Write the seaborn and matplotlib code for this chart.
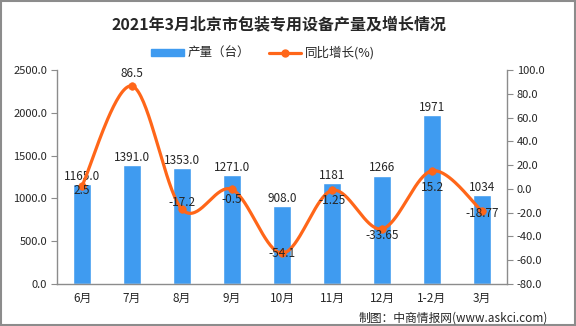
import numpy as np
import pandas as pd
import matplotlib
matplotlib.use("Agg")
import matplotlib.pyplot as plt
import seaborn as sns
from matplotlib.lines import Line2D
from matplotlib.patches import Patch, Rectangle

sns.set_style("white")
plt.rcParams['font.family'] = ['Noto Sans CJK SC', 'DejaVu Sans']

categories = ["6月", "7月", "8月", "9月", "10月", "11月", "12月", "1-2月", "3月"]
output = [1165, 1391, 1353, 1271, 908, 1181, 1266, 1971, 1034]
output_labels = ["1165.0", "1391.0", "1353.0", "1271.0", "908.0", "1181", "1266", "1971", "1034"]
growth = [2.5, 86.5, -17.2, -0.5, -54.1, -1.25, -33.65, 15.2, -18.77]
growth_labels = ["2.5", "86.5", "-17.2", "-0.5", "-54.1", "-1.25", "-33.65", "15.2", "-18.77"]
left_ticks = [0, 500, 1000, 1500, 2000, 2500]
right_ticks = [-80, -60, -40, -20, 0, 20, 40, 60, 80, 100]

# label vertical offsets (points) for growth labels -- styling only
growth_offsets = [-3, 9, 5, -7, 0, -7, -5, -12, -2]

BLUE = "#3F9BF0"
ORANGE = "#FF6619"
GRAY = "#8C8C8C"

fig = plt.figure(figsize=(5.76, 3.26), dpi=100)
ax = fig.add_axes([57/576, 1-284/326, 450/576, 214/326])

df = pd.DataFrame({"cat": categories, "val": output})
sns.barplot(data=df, x="cat", y="val", color=BLUE, saturation=1, width=0.37, ax=ax)
ax.set_ylim(0, 2500)
ax.set_xlim(-0.5, len(categories) - 0.5)
ax.set_yticks(left_ticks)
ax.set_yticklabels([f"{v:.1f}" for v in left_ticks], fontsize=8)
ax.set_xlabel("")
ax.set_ylabel("")
ax.tick_params(axis='x', length=0, labelsize=8.5, pad=6)
ax.set_xticks(np.arange(-0.5, len(categories)), minor=True)
ax.tick_params(axis='x', which='minor', length=4, color=GRAY, direction='out')
ax.tick_params(axis='y', length=4, color=GRAY, direction='out', pad=3)

for i, (v, lab) in enumerate(zip(output, output_labels)):
    ax.annotate(lab, (i, v), xytext=(0, 1), textcoords="offset points",
                ha="center", va="bottom", fontsize=8.5)

ax2 = ax.twinx()
ax2.set_ylim(-80, 100)
ax2.set_yticks(right_ticks)
ax2.set_yticklabels([f"{v:.1f}" for v in right_ticks], fontsize=8)
ax2.tick_params(axis='y', length=4, color=GRAY, direction='out', pad=3)

# smooth curve (Catmull-Rom) through the data points
xs = np.arange(len(growth), dtype=float)
ys = np.array(growth, dtype=float)
px = np.concatenate([[xs[0]], xs, [xs[-1]]])
py = np.concatenate([[ys[0]], ys, [ys[-1]]])
cx, cy = [], []
t = np.linspace(0, 1, 40)
for i in range(1, len(px) - 2):
    p0, p1, p2, p3 = [np.array([px[j], py[j]]) for j in (i - 1, i, i + 1, i + 2)]
    m1 = (p2 - p0) / 2
    m2 = (p3 - p1) / 2
    h00 = 2*t**3 - 3*t**2 + 1
    h10 = t**3 - 2*t**2 + t
    h01 = -2*t**3 + 3*t**2
    h11 = t**3 - t**2
    seg = np.outer(h00, p1) + np.outer(h10, m1) + np.outer(h01, p2) + np.outer(h11, m2)
    cx.extend(seg[:, 0]); cy.extend(seg[:, 1])
ax2.plot(cx, cy, color=ORANGE, lw=2.3, solid_capstyle='round', zorder=3)
sns.scatterplot(x=xs, y=ys, color=ORANGE, s=30, edgecolor=ORANGE, ax=ax2, zorder=4, legend=False)
ax2.set_xlim(-0.5, len(categories) - 0.5)

for i, (v, lab, off) in enumerate(zip(growth, growth_labels, growth_offsets)):
    ax2.annotate(lab, (i, v), xytext=(0, off), textcoords="offset points",
                 ha="center", va="center", fontsize=8.5, zorder=5)

for a in (ax, ax2):
    for s in a.spines.values():
        s.set_color(GRAY)
        s.set_linewidth(1)
    a.spines['top'].set_visible(False)
ax.spines['right'].set_visible(False)
ax2.spines['left'].set_visible(False)
ax2.spines['bottom'].set_visible(False)

fig.text(279/576, 1 - 24/326, "2021年3月北京市包装专用设备产量及增长情况",
         ha="center", va="center", fontsize=11.5, fontweight="bold")

handles = [Patch(facecolor=BLUE, edgecolor=BLUE),
           Line2D([0], [0], color=ORANGE, lw=2.3, marker='o', markersize=5)]
fig.legend(handles, ["产量（台）", "同比增长(%)"], loc="center",
           bbox_to_anchor=(263/576, 1 - 53/326), ncol=2, frameon=False, fontsize=9,
           handlelength=2.6, handleheight=0.45, columnspacing=1.5, handletextpad=0.3)

fig.text(548/576, 1 - 318/326, "制图：中商情报网(www.askci.com)", ha="right", va="center",
         fontsize=8.5)

fig.add_artist(Rectangle((0.001, 0.002), 0.997, 0.995, transform=fig.transFigure,
                         fill=False, edgecolor=GRAY, lw=1.5))

fig.savefig("out.png", dpi=100)
